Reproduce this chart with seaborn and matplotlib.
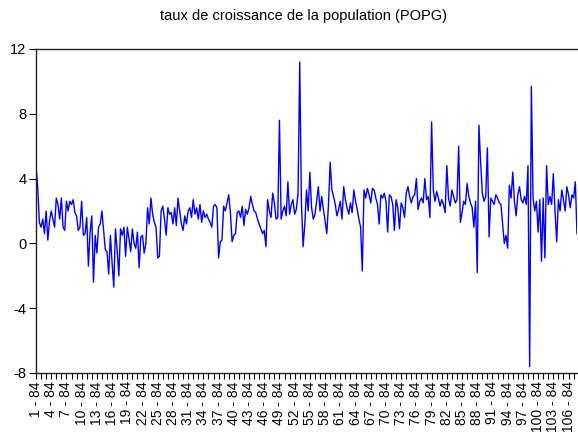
import numpy as np
import pandas as pd
import matplotlib
matplotlib.use("Agg")
import matplotlib.pyplot as plt
import seaborn as sns

# Population growth rate (POPG), 3 observations per cross-section, starting 84
popg_cs01_27 = [
    4.8, 3.5, 1.3,   1.0, 1.5, 0.6,   2.0, 0.2, 1.4,   2.0, 1.5, 1.0,
    2.8, 2.4, 1.5,   2.8, 1.0, 0.8,   2.6, 2.0, 2.6,   2.4, 2.7, 1.9,
    1.7, 0.8, 1.0,   2.6, 0.5, 0.6,   1.6, -1.4, 0.7,  1.7, -2.4, 0.5,
    -0.6, 1.0, 1.2,  2.0, 0.8, -0.4,  -0.5, -1.9, 0.5, -1.2, -2.7, 0.9,
    -0.4, -2.0, 0.9, 0.5, 1.0, -0.8,  1.0, 0.3, -0.5,  0.9, 0.0, -0.3,
    0.7, -1.5, 0.4,  0.5, -0.6, 0.0,  2.2, 1.2, 2.8,   1.8, 1.3, 1.0,
    -0.9, -0.8, 2.0, 2.3, 1.5, 0.5,   2.2, 1.8, 1.9,
]
popg_cs28_54 = [
    1.2, 2.2, 1.1,   2.8, 2.0, 1.2,   0.8, 1.7, 1.2,   2.0, 2.2, 1.6,
    2.7, 1.8, 2.2,   1.5, 2.4, 1.3,   2.0, 1.6, 1.8,   1.5, 1.3, 1.0,
    2.3, 2.4, 2.2,   -0.9, 0.1, 0.2,  2.3, 2.0, 2.5,   3.0, 1.9, 0.1,
    0.5, 0.6, 1.9,   2.0, 1.6, 2.3,   1.1, 2.1, 1.8,   2.2, 2.9, 2.4,
    2.0, 1.9, 1.5,   1.2, 0.9, 0.6,   0.8, -0.2, 2.7,  2.0, 1.6, 3.1,
    2.5, 1.5, 1.6,   7.6, 1.5, 2.0,   2.3, 1.7, 3.8,   1.8, 2.4, 2.7,
    1.8, 2.1, 3.1,   11.2, 2.5, -0.2, 1.2, 3.3, 2.0,
]
popg_cs55_81 = [
    4.4, 2.2, 1.5,   1.8, 2.6, 3.5,   2.0, 2.9, 2.1,   1.4, 0.6, 2.4,
    5.0, 3.3, 2.9,   2.4, 1.7, 2.1,   2.6, 1.5, 3.5,   2.7, 2.2, 1.8,
    2.5, 1.9, 3.3,   2.6, 2.1, 1.5,   1.0, -1.7, 3.3,  2.8, 3.4, 3.0,
    2.5, 3.4, 3.3,   2.8, 2.4, 1.2,   3.0, 2.8, 3.1,   2.6, 0.7, 3.0,
    2.9, 2.4, 0.8,   2.7, 2.2, 0.9,   2.5, 2.2, 1.6,   3.1, 3.5, 2.9,
    2.5, 2.9, 3.0,   4.0, 2.1, 2.6,   2.8, 2.5, 4.0,   2.7, 2.9, 1.6,
    7.5, 3.3, 2.6,   3.2, 2.8, 2.3,   2.7, 2.4, 1.9,
]
popg_cs82_107 = [
    4.8, 2.8, 2.3,   3.3, 2.9, 2.5,   2.7, 6.0, 1.3,   1.9, 2.6, 2.4,
    3.7, 2.9, 2.5,   2.2, 1.0, 2.6,   -1.8, 7.3, 5.0,  3.1, 2.6, 2.9,
    5.9, 0.4, 2.8,   2.6, 2.4, 3.0,   2.8, 2.5, 2.4,   1.2, 0.0, 0.5,
    -0.3, 3.6, 2.8,  4.4, 2.6, 1.7,   3.0, 3.5, 2.7,   2.5, 2.9, 2.4,
    4.8, -7.6, 9.7,  2.8, 2.0, 2.6,   0.7, 2.7, -1.1,  2.8, -0.9, 4.8,
    2.4, 2.9, 2.4,   4.3, 2.0, 0.1,   2.7, 2.0, 3.3,   2.7, 2.0, 3.5,
    3.0, 2.2, 3.0,   2.8, 3.8, 0.6,
]

periods_per_cs = 3
first_year = 84
y_ticks = [-8, -4, 0, 4, 8, 12]

popg = popg_cs01_27 + popg_cs28_54 + popg_cs55_81 + popg_cs82_107
n_obs = len(popg)
n_cs = n_obs // periods_per_cs
df = pd.DataFrame({"obs": np.arange(n_obs), "POPG": popg})

plt.rcParams["font.family"] = ["Liberation Sans", "DejaVu Sans"]

fig = plt.figure(figsize=(5.78, 4.46), dpi=100)
ax = fig.add_axes([36 / 578, (446 - 373) / 446, (577 - 36) / 578, (373 - 49) / 446])

sns.lineplot(data=df, x="obs", y="POPG", ax=ax, color="#0000ff", linewidth=1.0)

ax.set_xlim(0, n_obs - 1)
ax.set_ylim(-8, 12)
ax.set_yticks(y_ticks)
ax.set_yticklabels([str(v) for v in y_ticks], fontsize=10.5)

# a tick at the start of every cross-section, a label on every third one
cs_starts = np.arange(0, n_obs, periods_per_cs)
ax.set_xticks(cs_starts, minor=True)
label_cs = list(range(1, n_cs + 1, 3))
ax.set_xticks([(c - 1) * periods_per_cs for c in label_cs])
ax.set_xticklabels([f"{c} - {first_year}" for c in label_cs], rotation=90, fontsize=10)
ax.tick_params(axis="x", which="both", direction="out", length=4, width=0.8, pad=2)
ax.tick_params(axis="y", direction="out", length=5, width=0.8, pad=2)

ax.set_xlabel("")
ax.set_ylabel("")
for side in ("left", "top", "bottom"):
    ax.spines[side].set_color("#222222")
    ax.spines[side].set_linewidth(1.0)
ax.spines["right"].set_visible(False)

fig.text(0.525, 0.965, "taux de croissance de la population (POPG)",
         ha="center", va="center", fontsize=10.5)

fig.savefig("out.png", dpi=100)
